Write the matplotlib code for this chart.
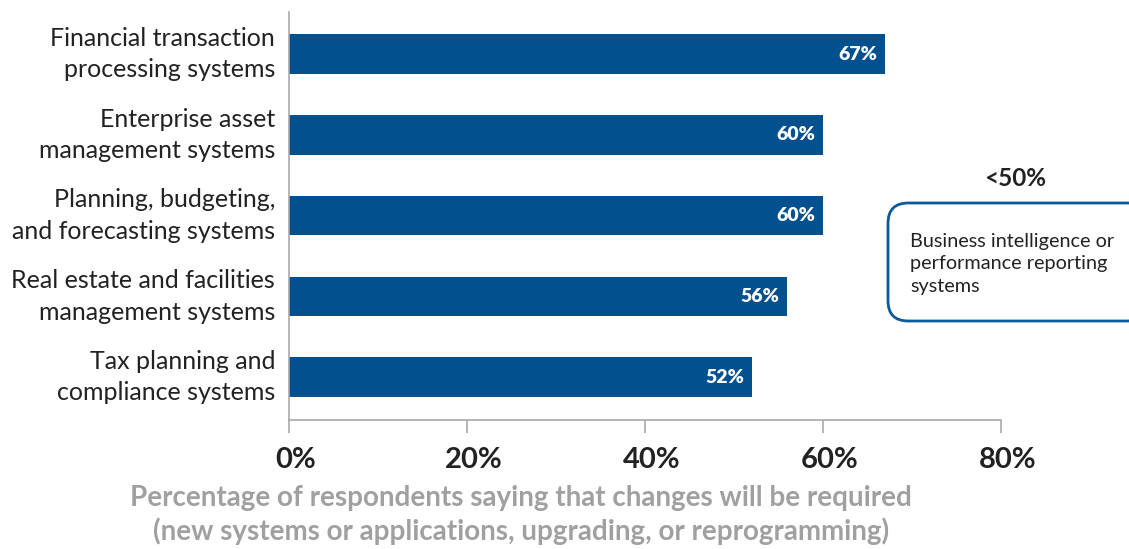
import matplotlib
matplotlib.use("Agg")
import matplotlib.pyplot as plt
import matplotlib.transforms as mtransforms
from matplotlib.patches import FancyBboxPatch

categories = [
    "Financial transaction\nprocessing systems",
    "Enterprise asset\nmanagement systems",
    "Planning, budgeting,\nand forecasting systems",
    "Real estate and facilities\nmanagement systems",
    "Tax planning and\ncompliance systems",
]
values = [67, 60, 60, 56, 52]
value_labels = ["67%", "60%", "60%", "56%", "52%"]
xticks = [0, 20, 40, 60, 80]
xtick_labels = ["0%", "20%", "40%", "60%", "80%"]
box_title = "<50%"
box_text = "Business intelligence or\nperformance reporting\nsystems"
xlabel = ("Percentage of respondents saying that changes will be required\n"
          "(new systems or applications, upgrading, or reprogramming)")

FONT = "Lato"
BAR = "#03508F"
GRAY = "#A9A9AE"

fig = plt.figure(figsize=(11.29, 5.49), dpi=100)
ax = fig.add_axes([289/1129, 1-420/549, (1001-289)/1129, (420-12)/549])

ypos = list(range(len(categories)))
ax.barh(ypos, values, height=0.49, color=BAR)
for y, v, lab in zip(ypos, values, value_labels):
    ax.text(v - 0.9, y, lab, ha="right", va="center", color="white",
            fontsize=14, fontweight="heavy", family=FONT)

ax.set_xlim(0, 80)
ax.set_ylim(4.53, -0.52)
ax.set_yticks(ypos)
ax.set_yticklabels(categories, fontsize=18, family=FONT, color="#222222",
                   linespacing=1.45)
up = mtransforms.ScaledTranslation(0, 3/100, fig.dpi_scale_trans)
for lbl in ax.get_yticklabels():
    lbl.set_va("center")
    lbl.set_transform(lbl.get_transform() + up)
ax.tick_params(axis="y", length=0, pad=10)

ax.set_xticks(xticks)
ax.tick_params(axis="x", direction="out", length=9, width=1.2, color=GRAY,
               labelbottom=False)
xt = ax.get_xaxis_transform() + mtransforms.ScaledTranslation(
    7/100, -40/100, fig.dpi_scale_trans)
for x, lab in zip(xticks, xtick_labels):
    ax.text(x, 0, lab, transform=xt, ha="center", va="center", fontsize=21,
            fontweight="bold", family=FONT, color="#222222", clip_on=False)

for s in ["top", "right"]:
    ax.spines[s].set_visible(False)
for s in ["left", "bottom"]:
    ax.spines[s].set_color(GRAY)
    ax.spines[s].set_linewidth(1.2)

fig.text(521/1129, 1-515/549, xlabel, ha="center", va="center", fontsize=20,
         fontweight="bold", family=FONT, color="#A0A0A0", linespacing=1.25)

box = FancyBboxPatch((888/1129, 1-321/549), 260/1129, (321-203)/549,
                     boxstyle="round,pad=0,rounding_size=0.018",
                     transform=fig.transFigure, facecolor="white",
                     edgecolor="#0A5A9C", linewidth=2, mutation_aspect=2.05,
                     clip_on=False)
fig.patches.append(box)
fig.text(1015/1129, 1-179/549, box_title, ha="center", va="center", fontsize=17.5,
         fontweight="bold", family=FONT, color="#222222")
fig.text(910/1129, 1-264/549, box_text, ha="left", va="center", fontsize=14.3,
         family=FONT, color="#222222", linespacing=1.36)

fig.savefig("out.png", dpi=100)
